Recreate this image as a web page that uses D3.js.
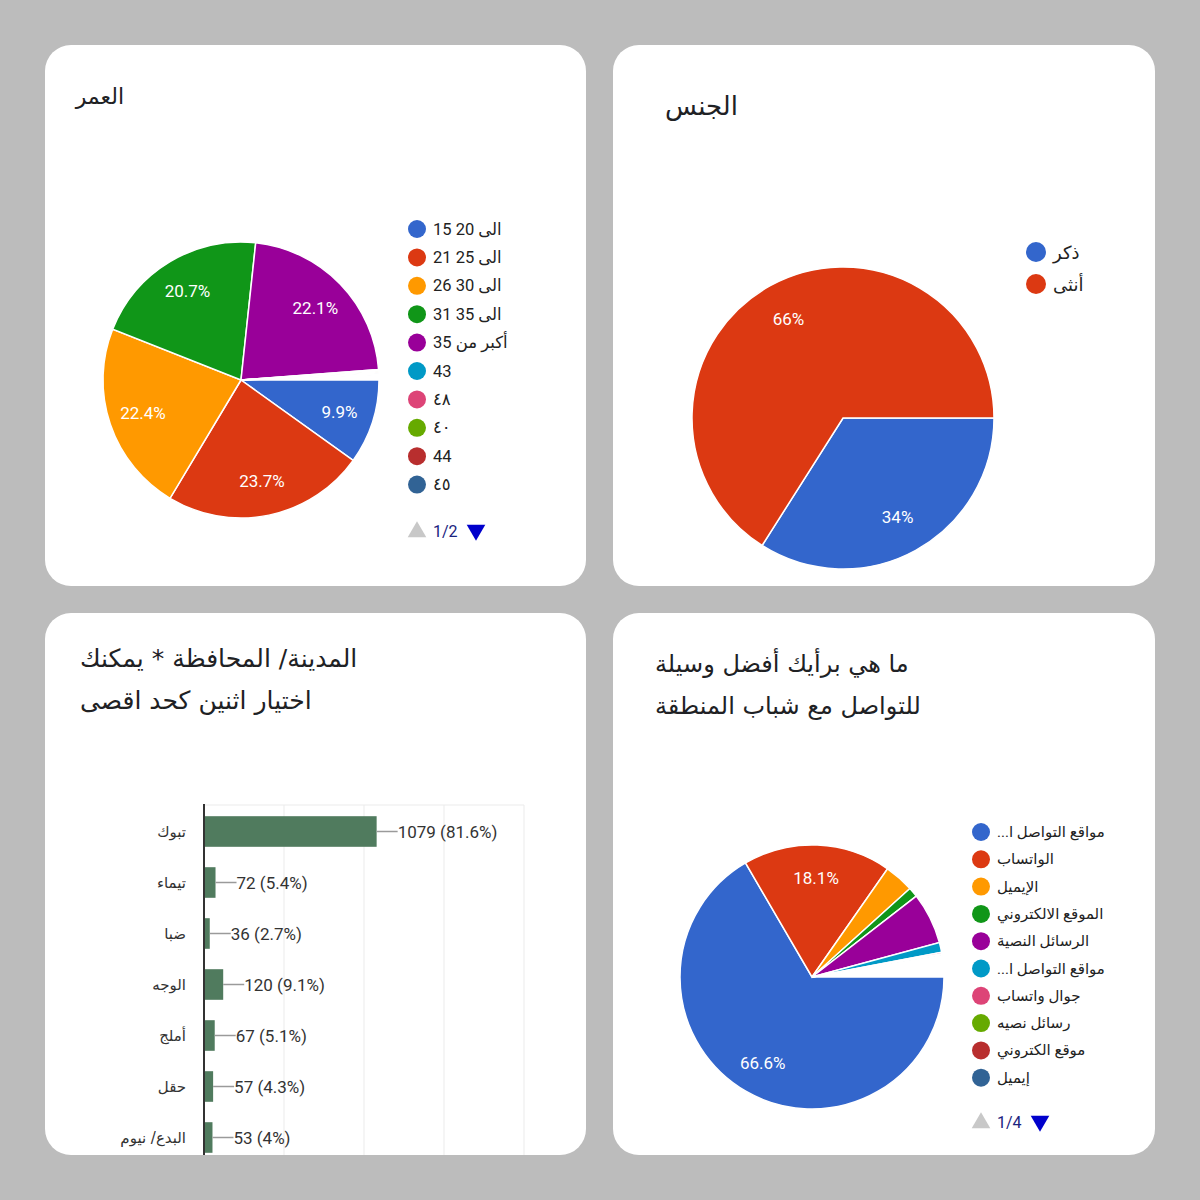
<!DOCTYPE html>
<html><head><meta charset="utf-8">
<script src="https://cdn.jsdelivr.net/npm/d3@7"></script>
<style>html,body{margin:0;padding:0;background:#bcbcbc;}svg{display:block;}</style>
</head><body>
<svg id="c" width="1200" height="1200"></svg>
<script>
// ---------- DATA ----------
const palette = ["#3366cc","#dc3912","#ff9900","#109618","#990099","#0099c6","#dd4477","#66aa00","#b82e2e","#316395"];

const ageTitle = "العمر";
const ageLabels = ["15 20 الى","21 25 الى","26 30 الى","31 35 الى","أكبر من 35","43","٤٨","٤٠","44","٤٥"];
const ageValues = [9.9, 23.7, 22.4, 20.7, 22.1, 0.12, 0.12, 0.12, 0.12, 0.12];
const agePageLabel = "1/2";

const genderTitle = "الجنس";
const genderLabels = ["ذكر","أنثى"];
const genderValues = [34, 66];

const cityTitle = ["المدينة/ المحافظة * يمكنك","اختيار اثنين كحد اقصى"];
const cityCategories = ["تبوك","تيماء","ضبا","الوجه","أملج","حقل","البدع/ نيوم"];
const cityCounts = [1079, 72, 36, 120, 67, 57, 53];
const cityPercents = ["81.6%","5.4%","2.7%","9.1%","5.1%","4.3%","4%"];
const cityTicks = [0, 500, 1000, 1500, 2000];

const commTitle = ["ما هي برأيك أفضل وسيلة","للتواصل مع شباب المنطقة"];
const commLabels = ["\u200E...مواقع التواصل ا","الواتساب","الإيميل","الموقع الالكتروني","الرسائل النصية","\u200E...مواقع التواصل ا","جوال واتساب","رسائل نصيه","موقع الكتروني","إيميل"];
const commValues = [66.6, 18.1, 3.6, 1.2, 6.3, 1.2, 0.2, 0.1, 0.1, 0.1];
const commPageLabel = "1/4";

// ---------- LAYOUT ----------
const svg = d3.select("#c");
const FONT = "Roboto, 'DejaVu Sans', sans-serif";
const AR = "'DejaVu Sans', 'Noto Sans', sans-serif";
const defs = svg.append("defs");

function card(id, x, y, w, h) {
  defs.append("clipPath").attr("id", id).append("rect")
    .attr("x", x).attr("y", y).attr("width", w).attr("height", h).attr("rx", 26).attr("ry", 26);
  svg.append("rect").attr("x", x).attr("y", y).attr("width", w).attr("height", h)
    .attr("rx", 26).attr("ry", 26).attr("fill", "#ffffff");
  return svg.append("g").attr("clip-path", `url(#${id})`);
}

function pieChart(g, values, cx, cy, r, labelIdx) {
  const total = d3.sum(values);
  const start = Math.PI / 2;
  const pie = d3.pie().sort(null).value(d => d)
    .startAngle(start).endAngle(start + 2 * Math.PI * Math.min(total, 100) / 100);
  const arcs = pie(values);
  const arc = d3.arc().innerRadius(0).outerRadius(r);
  const gp = g.append("g").attr("transform", `translate(${cx},${cy})`);
  gp.selectAll("path").data(arcs).join("path")
    .attr("d", arc).attr("fill", (d, i) => palette[i % palette.length])
    .attr("stroke", "#fff").attr("stroke-width", 1.5);
  const lab = d3.arc().innerRadius(r * 0.75).outerRadius(r * 0.75);
  gp.selectAll("text").data(arcs.filter((d, i) => labelIdx.includes(i))).join("text")
    .attr("transform", d => `translate(${lab.centroid(d)})`)
    .attr("text-anchor", "middle").attr("dominant-baseline", "central")
    .attr("fill", "#fff").attr("font-family", FONT).attr("font-size", 17)
    .text(d => (+d.data.toFixed(1)) + "%");
}

function legend(g, labels, x, y0, step, r, fs) {
  const gl = g.append("g");
  const it = gl.selectAll("g").data(labels).join("g")
    .attr("transform", (d, i) => `translate(${x},${y0 + i * step})`);
  it.append("circle").attr("r", r).attr("fill", (d, i) => palette[i % palette.length]);
  it.append("text").attr("x", r + 7).attr("dominant-baseline", "central")
    .attr("font-family", FONT).attr("font-size", fs).attr("fill", "#222").text(d => d);
}

function pager(g, x, y, txt) {
  g.append("path").attr("d", d3.symbol(d3.symbolTriangle, 150)())
    .attr("transform", `translate(${x},${y + 1})`).attr("fill", "#c8c8c8");
  g.append("text").attr("x", x + 16).attr("y", y).attr("dominant-baseline", "central")
    .attr("font-family", FONT).attr("font-size", 16).attr("fill", "#1a237e").text(txt);
  g.append("path").attr("d", d3.symbol(d3.symbolTriangle, 150)())
    .attr("transform", `translate(${x + 59},${y - 1}) rotate(180)`).attr("fill", "#0000cc");
}

function title(g, lines, xa, anchor, y0, lh, fs) {
  g.selectAll(null).data(lines).join("text")
    .attr("x", xa).attr("y", (d, i) => y0 + i * lh)
    .attr("text-anchor", anchor).attr("font-family", AR).attr("font-size", fs)
    .attr("fill", "#202124").text(d => d);
}

// ---------- Card 1: Age ----------
const g1 = card("k1", 45, 45, 541, 541);
title(g1, [ageTitle], 124, "end", 104, 0, 22);
pieChart(g1, ageValues, 241, 380, 138, [0,1,2,3,4]);
legend(g1, ageLabels, 417, 229, 28.4, 9, 16.5);
pager(g1, 417, 531, agePageLabel);

// ---------- Card 2: Gender ----------
const g2 = card("k2", 613, 45, 542, 541);
title(g2, [genderTitle], 738, "end", 115, 0, 26);
pieChart(g2, genderValues, 843, 418, 151, [0,1]);
legend(g2, genderLabels, 1036, 252, 32, 10, 18);

// ---------- Card 3: City bar chart ----------
const g3 = card("k3", 45, 613, 541, 542);
title(g3, cityTitle, 80, "start", 667, 42, 25);
const x = d3.scaleLinear().domain([0, 2000]).range([204, 524]);
const y = d3.scaleBand().domain(cityCategories).range([806, 1163]).paddingInner(0.4).paddingOuter(0.2);
g3.selectAll(".grid").data(cityTicks.slice(1)).join("line")
  .attr("x1", d => x(d)).attr("x2", d => x(d)).attr("y1", 805).attr("y2", 1160)
  .attr("stroke", "#ebebeb").attr("stroke-width", 1);
g3.append("line").attr("x1", 204).attr("x2", 524).attr("y1", 805).attr("y2", 805)
  .attr("stroke", "#ebebeb");
const bars = g3.selectAll(".bar").data(cityCategories).join("g");
bars.append("rect").attr("x", x(0)).attr("y", d => y(d))
  .attr("width", (d, i) => x(cityCounts[i]) - x(0)).attr("height", y.bandwidth())
  .attr("fill", "#507b5e");
bars.append("line")
  .attr("x1", (d, i) => x(cityCounts[i])).attr("x2", (d, i) => x(cityCounts[i]) + 21)
  .attr("y1", d => y(d) + y.bandwidth() / 2).attr("y2", d => y(d) + y.bandwidth() / 2)
  .attr("stroke", "#9a9a9a").attr("stroke-width", 1.5);
bars.append("text")
  .attr("x", (d, i) => x(cityCounts[i]) + 21).attr("y", d => y(d) + y.bandwidth() / 2)
  .attr("dominant-baseline", "central").attr("font-family", FONT).attr("font-size", 17)
  .attr("fill", "#333").text((d, i) => `${cityCounts[i]} (${cityPercents[i]})`);
bars.append("text")
  .attr("x", 186).attr("y", d => y(d) + y.bandwidth() / 2)
  .attr("text-anchor", "end").attr("dominant-baseline", "central")
  .attr("font-family", AR).attr("font-size", 15).attr("fill", "#333").text(d => d);
g3.append("line").attr("x1", 204).attr("x2", 204).attr("y1", 804).attr("y2", 1160)
  .attr("stroke", "#333").attr("stroke-width", 2);

// ---------- Card 4: Communication ----------
const g4 = card("k4", 613, 613, 542, 542);
title(g4, commTitle, 655, "start", 672, 42, 24);
pieChart(g4, commValues, 812, 977, 132, [0,1]);
legend(g4, commLabels, 981, 832, 27.3, 9, 15);
pager(g4, 981, 1122, commPageLabel);
</script>
</body></html>
